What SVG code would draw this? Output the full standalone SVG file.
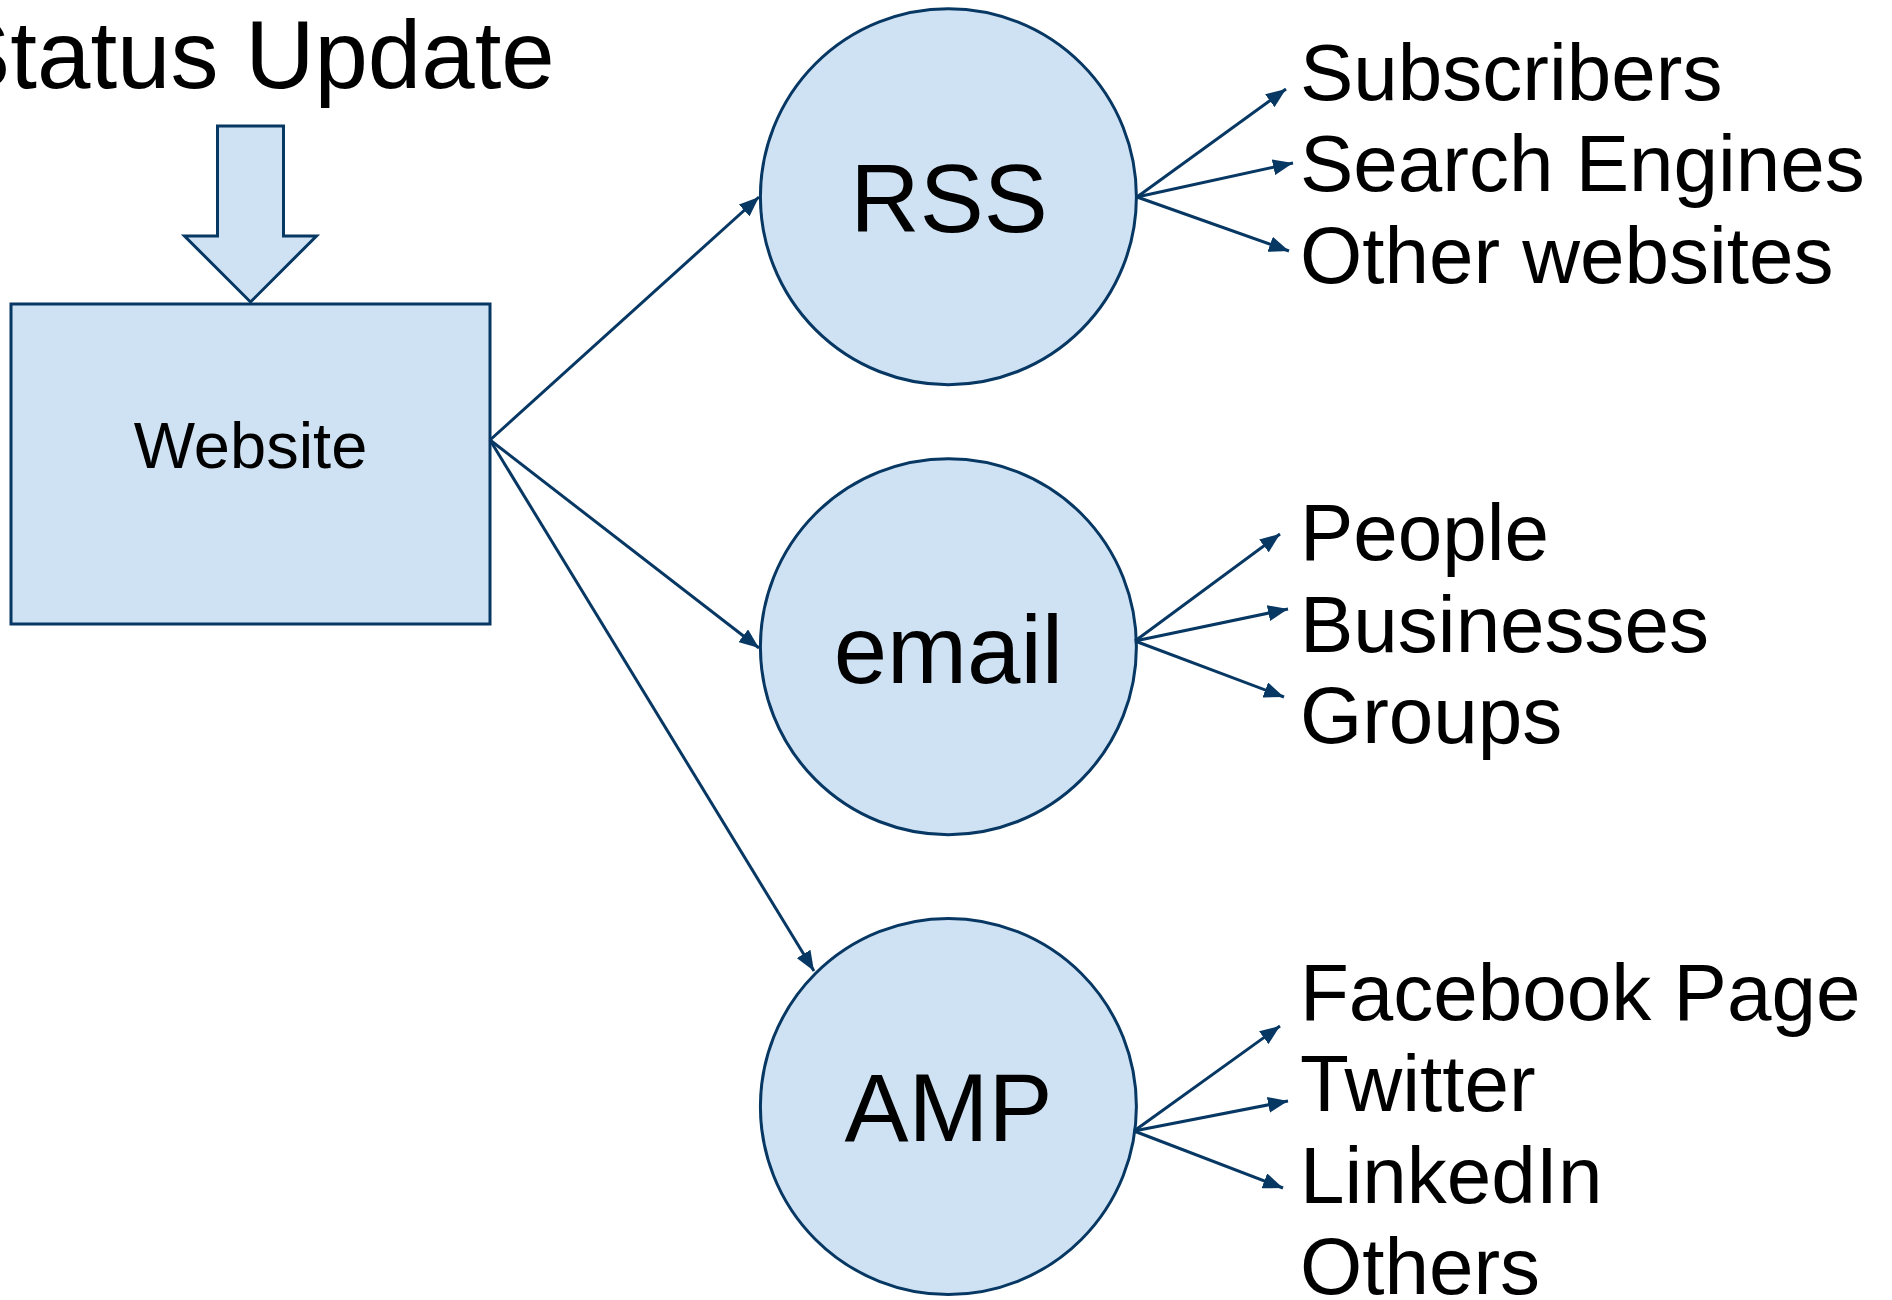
<svg xmlns="http://www.w3.org/2000/svg" width="1892" height="1300" viewBox="0 0 1892 1300">
<style>
.shape{fill:#cfe2f3;stroke:#073763;stroke-width:3;stroke-linejoin:miter}
.lbl{font-family:"Liberation Sans",Arial,sans-serif;fill:#000}
.big{font-size:96px;text-anchor:middle}
.item{font-size:80px}
.conn line{stroke:#073763;stroke-width:3;fill:none}
</style>
<defs>
<marker id="ah" markerUnits="userSpaceOnUse" markerWidth="21" markerHeight="16" refX="20" refY="8" orient="auto">
<path d="M0,0 L20,8 L0,16 z" fill="#073763"/>
</marker>
</defs>
<rect width="1892" height="1300" fill="#fff"/>
<g id="status-update">
<text class="lbl big" x="250.5" y="88">Status Update</text>
<polygon class="shape" points="217.5,126 283.5,126 283.5,236 316.5,236 250.5,302 184.5,236 217.5,236"/>
</g>
<g id="website">
<rect class="shape" x="11" y="304" width="479" height="320"/>
<text class="lbl" x="250.5" y="468" font-size="65" text-anchor="middle">Website</text>
</g>
<g id="rss">
<circle class="shape" cx="948.4" cy="196.7" r="188"/>
<text class="lbl big" x="949" y="232">RSS</text>
</g>
<g id="email">
<circle class="shape" cx="948.4" cy="646.7" r="188"/>
<text class="lbl big" x="948.4" y="683">email</text>
</g>
<g id="amp">
<circle class="shape" cx="948.4" cy="1106.5" r="188"/>
<text class="lbl big" x="948.4" y="1141">AMP</text>
</g>
<g id="rss-targets" class="lbl item">
<text x="1300" y="100">Subscribers</text>
<text x="1300" y="191">Search Engines</text>
<text x="1300" y="283">Other websites</text>
</g>
<g id="email-targets" class="lbl item">
<text x="1300" y="560">People</text>
<text x="1300" y="652">Businesses</text>
<text x="1300" y="743">Groups</text>
</g>
<g id="amp-targets" class="lbl item">
<text x="1300" y="1020">Facebook Page</text>
<text x="1300" y="1111">Twitter</text>
<text x="1300" y="1203">LinkedIn</text>
<text x="1300" y="1294">Others</text>
</g>
<g id="connectors" class="conn">
<line x1="490" y1="440" x2="759" y2="197" marker-end="url(#ah)"/>
<line x1="490" y1="440" x2="759" y2="648" marker-end="url(#ah)"/>
<line x1="490" y1="440" x2="814" y2="971" marker-end="url(#ah)"/>
<line x1="1137" y1="197" x2="1286" y2="89" marker-end="url(#ah)"/>
<line x1="1137" y1="197" x2="1293" y2="163" marker-end="url(#ah)"/>
<line x1="1137" y1="197" x2="1289" y2="251" marker-end="url(#ah)"/>
<line x1="1135" y1="641" x2="1280" y2="534" marker-end="url(#ah)"/>
<line x1="1135" y1="641" x2="1288" y2="609" marker-end="url(#ah)"/>
<line x1="1135" y1="641" x2="1284" y2="697" marker-end="url(#ah)"/>
<line x1="1134" y1="1131" x2="1280" y2="1026" marker-end="url(#ah)"/>
<line x1="1134" y1="1131" x2="1288" y2="1101" marker-end="url(#ah)"/>
<line x1="1134" y1="1131" x2="1283" y2="1188" marker-end="url(#ah)"/>
</g>
</svg>
